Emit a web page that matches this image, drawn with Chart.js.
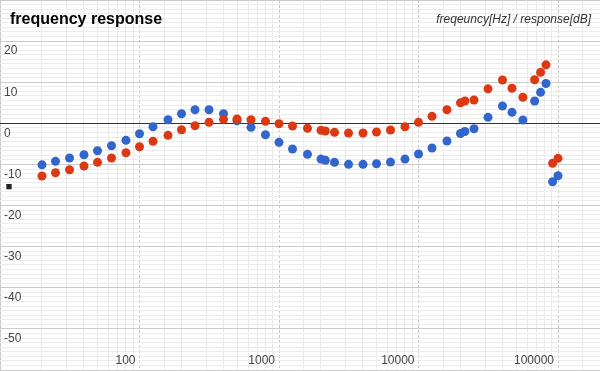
<!DOCTYPE html>
<html>
<head>
<meta charset="utf-8">
<title>frequency response</title>
<script src="https://cdn.jsdelivr.net/npm/chart.js@4/dist/chart.umd.min.js"></script>
<style>
  html, body { margin: 0; padding: 0; background: #fff; }
  #wrap { position: relative; width: 600px; height: 371px; }
  #title {
    position: absolute; left: 10px; top: 10.5px;
    font: bold 16px/16px "Liberation Sans", Arial, sans-serif; color: #000;
  }
  #units {
    position: absolute; right: 9px; top: 13px;
    font: italic 12px/12px "Liberation Sans", Arial, sans-serif; color: #333;
  }
</style>
</head>
<body>
<div id="wrap">
  <canvas id="freqChart" width="600" height="371"></canvas>
  <div id="title">frequency response</div>
  <div id="units">freqeuncy[Hz] / response[dB]</div>
</div>
<script>
// measured frequencies (Hz)
const freqs = [20, 25, 31.5, 40, 50, 63, 80, 100, 125, 160, 200, 250, 315, 400, 500, 630, 800,
  1000, 1250, 1600, 2000, 2150, 2500, 3150, 4000, 5000, 6300, 8000, 10000, 12500, 16000,
  20000, 21500, 25000, 31500, 40000, 46800, 56000, 68000, 75000, 82000, 91500, 100000];

// response in dB
const blueDb = [-10.1, -9.25, -8.44, -7.63, -6.67, -5.45, -4.14, -2.53, -0.83, 0.88, 2.34, 3.31,
  3.31, 2.34, 0.63, -0.97, -2.77, -4.62, -6.25, -7.54, -8.69, -9.0, -9.49, -9.98, -9.98, -9.83,
  -9.42, -8.69, -7.47, -6.01, -4.31, -2.48, -2.0, -1.31, 1.46, 4.21, 2.68, 0.8, 5.43, 7.54, 9.68,
  -14.2, -12.75];
const redDb = [-12.82, -12.02, -11.29, -10.39, -9.49, -8.44, -7.15, -5.69, -4.38, -2.92, -1.56,
  -0.58, 0.24, 0.97, 1.05, 0.88, 0.49, -0.1, -0.66, -1.22, -1.7, -1.87, -2.19, -2.36, -2.36,
  -2.12, -1.63, -0.83, 0.24, 1.7, 3.31, 4.99, 5.43, 5.67, 8.39, 10.54, 8.52, 6.35, 10.61, 12.41,
  14.23, -9.73, -8.52];

// lone black square near the left edge
const markerFreq = [11.6];
const markerDb = [-15.4];

const xTickLabels = [100, 1000, 10000, 100000];
const yTickLabels = [20, 10, 0, -10, -20, -30, -40, -50];

// y gridlines: majors every 10 dB, 8 minor lines in between
const yMajors = [-60, -50, -40, -30, -20, -10, 0, 10, 20, 30];
const yTickValues = [];
yMajors.forEach((m, i) => {
  yTickValues.push(m);
  if (i < yMajors.length - 1) {
    for (let j = 1; j < 9; j++) yTickValues.push(m + j * 10 / 9);
  }
});

function toPoints(xs, ys) {
  return xs.map((x, i) => ({ x: x, y: ys[i] }));
}

function isDecade(v) {
  const l = Math.log10(v);
  return Math.abs(l - Math.round(l)) < 1e-9;
}

const font = { family: '"Liberation Sans", Arial, sans-serif', size: 12 };

function createChart() {
  const ctx = document.getElementById('freqChart').getContext('2d');
  new Chart(ctx, {
    type: 'scatter',
    data: {
      datasets: [
        {
          label: 'red',
          data: toPoints(freqs, redDb),
          backgroundColor: '#dc3912',
          pointRadius: 4.5,
          pointHoverRadius: 4.5,
          borderWidth: 0,
          order: 0
        },
        {
          label: 'blue',
          data: toPoints(freqs, blueDb),
          backgroundColor: '#3366cc',
          pointRadius: 4.5,
          pointHoverRadius: 4.5,
          borderWidth: 0,
          order: 1
        },
        {
          label: 'marker',
          data: toPoints(markerFreq, markerDb),
          backgroundColor: '#222',
          pointStyle: 'rect',
          pointRadius: 3.75,
          borderWidth: 0,
          order: 2
        }
      ]
    },
    options: {
      responsive: false,
      devicePixelRatio: 1,
      animation: false,
      layout: { autoPadding: false, padding: { left: 0, bottom: 1, top: 0, right: 0 } },
      plugins: {
        legend: { display: false },
        tooltip: { enabled: false }
      },
      scales: {
        x: {
          type: 'logarithmic',
          position: 'bottom',
          min: 10,
          max: 200000,
          // labels sit inside the plot, so the axis takes no room
          afterFit: (scale) => {
            scale.height = 0;
            scale.paddingLeft = 0;
            scale.paddingRight = 0;
          },
          border: {
            display: false,
            dash: (c) => (c.tick && isDecade(c.tick.value) && c.tick.value > 10) ? [3, 2] : []
          },
          grid: {
            drawTicks: false,
            color: (c) => isDecade(c.tick.value) ? '#c6c6c6' : '#ebebeb'
          },
          ticks: {
            mirror: true,
            padding: 2,
            align: 'end',
            labelOffset: -4,
            autoSkip: false,
            maxRotation: 0,
            font: font,
            color: '#444',
            callback: (v) => {
              const hit = xTickLabels.find(t => Math.abs(v - t) / t < 1e-6);
              return hit ? String(hit) : '';
            }
          }
        },
        y: {
          type: 'linear',
          min: -60,
          max: 30,
          afterBuildTicks: (scale) => {
            scale.ticks = yTickValues.map(v => ({ value: v }));
          },
          afterFit: (scale) => {
            scale.width = 0;
            scale.paddingTop = 0;
            scale.paddingBottom = 0;
          },
          border: { display: false },
          grid: {
            drawTicks: false,
            color: (c) => {
              const v = c.tick.value;
              if (v === 0) return '#333';
              return (v % 10 === 0) ? '#cccccc' : '#ececec';
            }
          },
          ticks: {
            mirror: true,
            padding: 4,
            labelOffset: 10,
            autoSkip: false,
            font: font,
            color: '#444',
            callback: (v) => yTickLabels.includes(v) ? String(v) : ''
          }
        }
      }
    }
  });
}

window.onload = function() {
  createChart();
};
</script>
</body>
</html>
